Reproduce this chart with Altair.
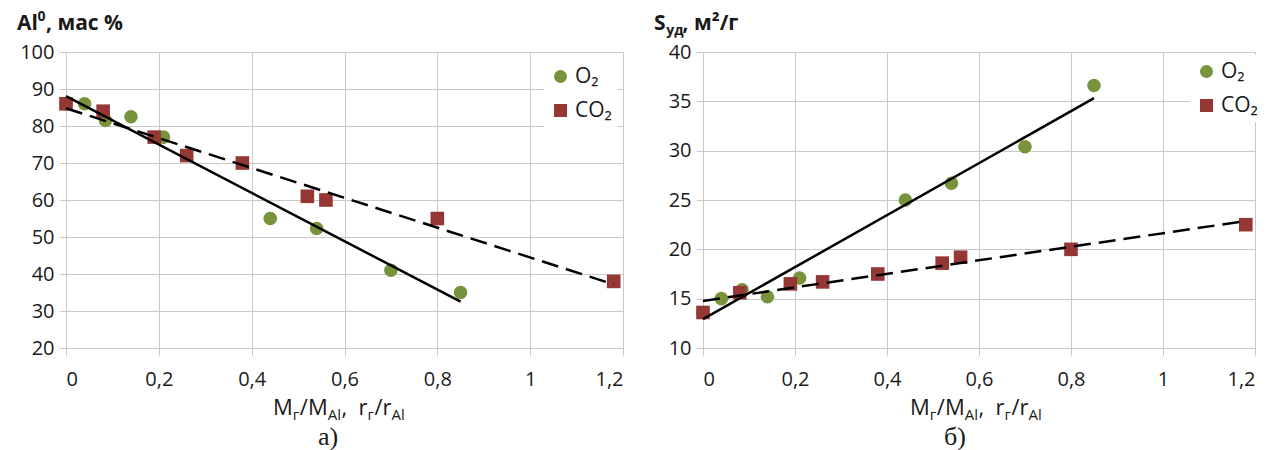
import altair as alt
import pandas as pd

FONT = "Open Sans"
SERIF = "Liberation Serif"
GREEN = "#77933C"
RED = "#953735"
GRID = "#c9c9c9"
INK = "#1a1a1a"
NBSP = "\u00a0"

GASES = ["O\u2082", "CO\u2082"]
x_ticks = [0, 0.2, 0.4, 0.6, 0.8, 1, 1.2]

# Panel а: metallic Al content vs. relative gas molar mass / radius
a_o2_x = [0, 0.04, 0.085, 0.14, 0.21, 0.44, 0.54, 0.70, 0.85]
a_o2_y = [86, 86, 81.5, 82.5, 77, 55, 52.3, 41, 35]
a_co2_x = [0, 0.08, 0.19, 0.26, 0.38, 0.52, 0.56, 0.80, 1.18]
a_co2_y = [86, 84, 77, 72, 70, 61, 60, 55, 38]
a_y_ticks = [20, 30, 40, 50, 60, 70, 80, 90, 100]

# Panel б: specific surface area
b_o2_x = [0, 0.04, 0.085, 0.14, 0.21, 0.44, 0.54, 0.70, 0.85]
b_o2_y = [13.6, 15.0, 15.9, 15.2, 17.1, 25.0, 26.7, 30.4, 36.6]
b_co2_x = [0, 0.08, 0.19, 0.26, 0.38, 0.52, 0.56, 0.80, 1.18]
b_co2_y = [13.6, 15.6, 16.5, 16.7, 17.5, 18.6, 19.2, 20.0, 22.5]
b_y_ticks = [10, 15, 20, 25, 30, 35, 40]

# approximate advance widths (em) used to chain rich-text pieces
EM = {"M": 0.90, "/": 0.37, "A": 0.65, "l": 0.26, ",": 0.25, NBSP: 0.26,
      "r": 0.41, "г": 0.47, "S": 0.55, "у": 0.50, "д": 0.58, "м": 0.70,
      "²": 0.37, "а": 0.56, "с": 0.48, "%": 0.83, "0": 0.57, " ": 0.26}


def seg_width(s, size, bold):
    return sum(EM.get(c, 0.55) for c in s) * size * (1.07 if bold else 1.0)


def label(text, x, y, size, bold=False, font=FONT, align="left"):
    return alt.Chart(pd.DataFrame({"t": [text]})).mark_text(
        align=align, baseline="alphabetic", font=font, fontSize=size,
        fontWeight="bold" if bold else "normal", color=INK,
    ).encode(x=alt.value(x), y=alt.value(y), text="t:N")


def rich_text(parts, x0, y0, bold=False):
    layers, x = [], x0
    for text, size, shift in parts:
        layers.append(label(text, x, y0 + shift, size, bold))
        x += seg_width(text, size, bold)
    return layers


X_TITLE = [("M", 22, 0), ("г", 15, 5), ("/M", 22, 0), ("Al", 15, 5),
           ("," + NBSP + NBSP + "r", 22, 0), ("г", 15, 5), ("/r", 22, 0), ("Al", 15, 5)]


def panel(o2x, o2y, co2x, co2y, ydomain, yticks, width, height,
          ytitle, caption, caption_x, legend_xy, anchor=False):
    df = pd.DataFrame({
        "x": o2x + co2x,
        "y": o2y + co2y,
        "gas": [GASES[0]] * len(o2x) + [GASES[1]] * len(co2x),
    })
    base = alt.Chart(df)
    xenc = alt.X("x:Q", scale=alt.Scale(domain=[0, 1.2], nice=False, zero=False),
                 axis=alt.Axis(values=x_ticks, title=None, labelPadding=14,
                               labelExpr="replace(format(datum.value, '~g'), '.', ',')"))
    yenc = alt.Y("y:Q", scale=alt.Scale(domain=ydomain, nice=False, zero=False),
                 axis=alt.Axis(values=yticks, title=None, labelPadding=5))
    leg = alt.Legend(title=None, orient="none", legendX=legend_xy[0], legendY=legend_xy[1])
    color = alt.Color("gas:N", scale=alt.Scale(domain=GASES, range=[GREEN, RED]), legend=leg)
    shape = alt.Shape("gas:N", scale=alt.Scale(domain=GASES, range=["circle", "square"]), legend=leg)

    o2_pts = base.transform_filter(alt.datum.gas == GASES[0]).mark_point(
        filled=True, size=185, opacity=1).encode(x=xenc, y=yenc, color=color, shape=shape)
    co2_pts = base.transform_filter(alt.datum.gas == GASES[1]).mark_point(
        filled=True, size=185, opacity=1).encode(x=xenc, y=yenc, color=color, shape=shape)

    o2_fit = base.transform_filter(alt.datum.gas == GASES[0]).transform_regression(
        "x", "y").mark_line(color="black", strokeWidth=2.5).encode(x=xenc, y=yenc)
    co2_fit = base.transform_filter(alt.datum.gas == GASES[1]).transform_regression(
        "x", "y").mark_line(color="black", strokeWidth=2.5, strokeDash=[17, 8]).encode(x=xenc, y=yenc)

    layers = [o2_pts, co2_pts, o2_fit, co2_fit]
    layers += rich_text(ytitle, -49, -22, bold=True)
    layers += rich_text(X_TITLE, 207, 363)
    layers.append(label(caption, caption_x, 393, 26, font=SERIF, align="center"))
    if anchor:
        layers.append(alt.Chart(pd.DataFrame({"a": [0]})).mark_rule(
            strokeOpacity=0, strokeWidth=1).encode(
            x=alt.value(-66), x2=alt.value(0), y=alt.value(-52)))
    return alt.layer(*layers).properties(width=width, height=height)


left = panel(a_o2_x, a_o2_y, a_co2_x, a_co2_y, [20, 100], a_y_ticks, 557, 296,
             [("Al", 21, 0), ("0", 14, -9), (", мас %", 21, 0)],
             "а)", 262, (478, 8), anchor=True)
right = panel(b_o2_x, b_o2_y, b_co2_x, b_co2_y, [10, 40], b_y_ticks, 552, 296,
              [("S", 21, 0), ("уд", 14, 5), (", м²/г", 21, 0)],
              "б)", 252, (487, 3))

chart = alt.hconcat(left, right, spacing=80, bounds="flush").resolve_scale(
    x="independent", y="independent", color="independent", shape="independent"
).resolve_legend(color="independent", shape="independent").configure_view(
    strokeWidth=0
).configure_axis(
    gridColor=GRID, domainColor=GRID, tickColor=GRID, tickSize=7,
    gridWidth=1, domainWidth=1, tickWidth=1,
    labelFont=FONT, labelFontSize=20, labelColor=INK,
).configure_legend(
    fillColor="white", padding=6, labelFont=FONT, labelFontSize=21,
    labelColor=INK, symbolSize=170, rowPadding=12, symbolStrokeWidth=0,
    labelOffset=4,
).properties(padding=0, background="white")

chart.save("out.html", embed_options={"renderer": "svg", "actions": False})
